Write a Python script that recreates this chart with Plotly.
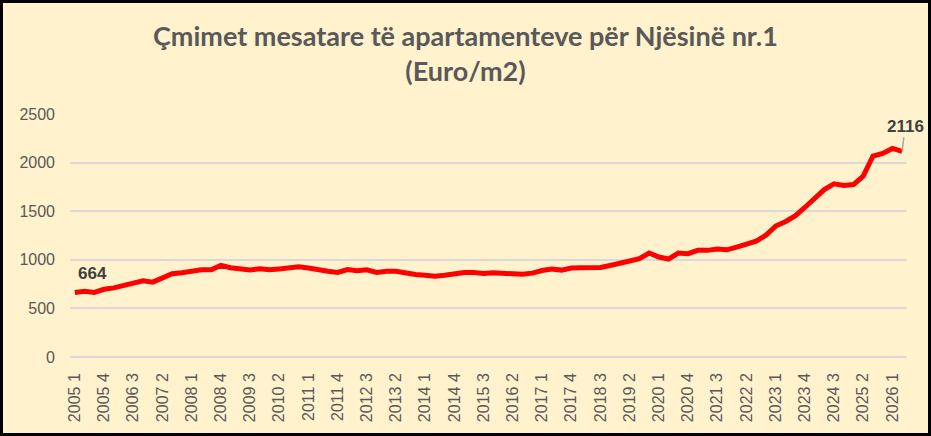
import plotly.graph_objects as go

# quarters 2005 Q1 .. 2026 Q2
years = [y for y in range(2005, 2027) for _ in range(4)][:86]
quarters = [q for _ in range(2005, 2027) for q in range(1, 5)][:86]
periods = [f"{y} {q}" for y, q in zip(years, quarters)]

# average price, Euro/m2
prices = [
    664, 677, 665, 697, 711, 739, 766, 783, 770, 818,
    856, 866, 887, 897, 897, 942, 918, 904, 894, 908,
    897, 906, 918, 928, 915, 894, 883, 870, 900, 887,
    897, 870, 883, 883, 863, 849, 842, 832, 842, 859,
    870, 870, 859, 866, 866, 856, 852, 863, 890, 904,
    894, 915, 918, 918, 921, 942, 970, 987, 1011, 1070,
    1029, 1008, 1070, 1063, 1097, 1097, 1110, 1103, 1131, 1156,
    1191, 1253, 1347, 1392, 1451, 1538, 1625, 1722, 1781, 1764,
    1774, 1861, 2066, 2094, 2146, 2116,
]

tick_labels = periods[::3]

title_text = "Çmimet mesatare të apartamenteve për Njësinë nr.1<br>(Euro/m2)"

bg = "#FFF2CC"
grid = "#D9D9D9"
txt = "#595959"

fig = go.Figure()
fig.add_trace(go.Scatter(
    x=periods, y=prices, mode="lines",
    line=dict(color="#FF0000", width=5),
    showlegend=False, hoverinfo="x+y",
))

# first and last value labels
fig.add_annotation(x=periods[0], y=prices[0], text=f"<b>{prices[0]}</b>",
                   showarrow=False, xshift=18, yshift=19,
                   font=dict(family="Liberation Sans", size=17, color="#404040"))
fig.add_annotation(x=periods[-1], y=prices[-1], text=f"<b>{prices[-1]}</b>",
                   showarrow=True, arrowhead=0, arrowwidth=1.5, arrowcolor="#A6A6A6",
                   ax=3, ay=-25,
                   font=dict(family="Liberation Sans", size=17, color="#404040"))

# chart frame
pw, ph = 931 - 70 - 24, 436 - 114 - 79
fig.add_shape(type="rect", xref="paper", yref="paper",
              x0=-70 / pw + 1.5 / pw, x1=1 + 24 / pw - 1.5 / pw,
              y0=-79 / ph + 1.5 / ph, y1=1 + 114 / ph - 1.5 / ph,
              line=dict(color="black", width=3))

fig.update_layout(
    width=931, height=436,
    margin=dict(l=70, r=24, t=114, b=79),
    paper_bgcolor=bg, plot_bgcolor=bg,
    title=dict(text=f"<b>{title_text}</b>", x=0.5, xref="container", xanchor="center",
               y=1 - 46 / 436, yref="container", yanchor="middle",
               font=dict(family="Lato", size=27, color=txt)),
    font=dict(family="Liberation Sans", size=16, color=txt),
)
fig.update_xaxes(type="category", range=[-0.5, len(periods) - 0.5],
                 tickmode="array", tickvals=tick_labels, ticktext=tick_labels,
                 tickangle=-90, showgrid=False, showline=False, ticks="",
                 ticklabelstandoff=12, tickfont=dict(size=16, color=txt))
fig.update_yaxes(range=[0, 2500], dtick=500, showgrid=True, gridcolor=grid, gridwidth=2,
                 zeroline=True, zerolinecolor=grid, zerolinewidth=2,
                 showline=False, ticks="", ticklabelstandoff=14,
                 tickfont=dict(size=16, color=txt))

fig.write_html("out.html", config={"displayModeBar": False},
               post_script="document.body.style.margin='0';")
